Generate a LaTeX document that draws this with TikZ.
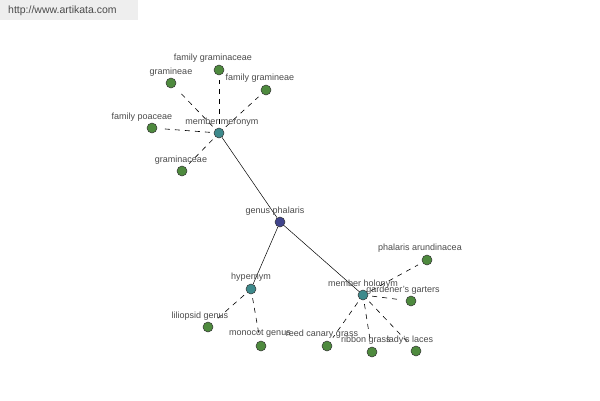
\documentclass[tikz,border=0pt]{standalone}
\usepackage{fontspec}
\setmainfont{Liberation Sans}
\usetikzlibrary{backgrounds}
\definecolor{leafgreen}{HTML}{4E8A3E}
\definecolor{hubteal}{HTML}{3E8A8C}
\definecolor{centerblue}{HTML}{40448C}
\definecolor{labelgray}{HTML}{4A4A4A}
\definecolor{boxgray}{HTML}{EEEEEE}
\tikzset{
  dot/.style={circle,draw=black!80,line width=0.5pt,inner sep=0pt,minimum size=10pt},
  leaf/.style={dot,fill=leafgreen},
  hub/.style={dot,fill=hubteal},
  center/.style={dot,fill=centerblue},
  lbl/.style={text=labelgray,font=\fontsize{9}{10}\selectfont,inner sep=0pt},
  solidedge/.style={draw=black,line width=0.5pt},
  dashedge/.style={draw=black,line width=0.6pt,dash pattern=on 5pt off 5pt,shorten <=4pt,shorten >=5pt}
}
\begin{document}
\begin{tikzpicture}[x=1pt,y=-1pt]
\useasboundingbox (0,0) rectangle (600,400);
\fill[boxgray] (0,0) rectangle (138,20);
\node[text=labelgray,font=\fontsize{10.5}{12}\selectfont,anchor=west,inner sep=0pt] (wm) at (8,11) {http://www.artikata.com};
% nodes
\node[center] (gp) at (280,222) {};
\node[hub] (mm) at (219,133) {};
\node[hub] (hy) at (251,289) {};
\node[hub] (mh) at (363,295) {};
\node[leaf] (l1) at (171,83) {};
\node[leaf] (l2) at (219,70) {};
\node[leaf] (l3) at (266,90) {};
\node[leaf] (l4) at (152,128) {};
\node[leaf] (l5) at (182,171) {};
\node[leaf] (l6) at (208,327) {};
\node[leaf] (l7) at (261,346) {};
\node[leaf] (l8) at (427,260) {};
\node[leaf] (l9) at (411,301) {};
\node[leaf] (l10) at (327,346) {};
\node[leaf] (l11) at (372,352) {};
\node[leaf] (l12) at (416,351) {};
% edges
\begin{pgfonlayer}{background}
\draw[solidedge] (gp) -- (mm);
\draw[solidedge] (gp) -- (hy);
\draw[solidedge] (gp) -- (mh);
\foreach \l in {l1,l2,l3,l4,l5} \draw[dashedge] (mm) -- (\l);
\foreach \l in {l6,l7} \draw[dashedge] (hy) -- (\l);
\foreach \l in {l8,l9,l10,l11,l12} \draw[dashedge] (mh) -- (\l);
\end{pgfonlayer}
% labels
\node[lbl] (tgp) at (275,211) {genus phalaris};
\node[lbl] (tmm) at (222,122) {member meronym};
\node[lbl] (thy) at (251,277) {hypernym};
\node[lbl] (tmh) at (363,284) {member holonym};
\node[lbl] (t1) at (171,72) {gramineae};
\node[lbl] (t2) at (213,58) {family graminaceae};
\node[lbl] (t3) at (260,78) {family gramineae};
\node[lbl] (t4) at (142,117) {family poaceae};
\node[lbl] (t5) at (181,160) {graminaceae};
\node[lbl] (t6) at (200,316) {liliopsid genus};
\node[lbl] (t7) at (260,334) {monocot genus};
\node[lbl] (t8) at (420,248) {phalaris arundinacea};
\node[lbl] (t9) at (403,290) {gardener's garters};
\node[lbl] (t10) at (322,334) {reed canary grass};
\node[lbl] (t11) at (366,340) {ribbon grass};
\node[lbl] (t12) at (410,340) {lady's laces};
\end{tikzpicture}
\end{document}
